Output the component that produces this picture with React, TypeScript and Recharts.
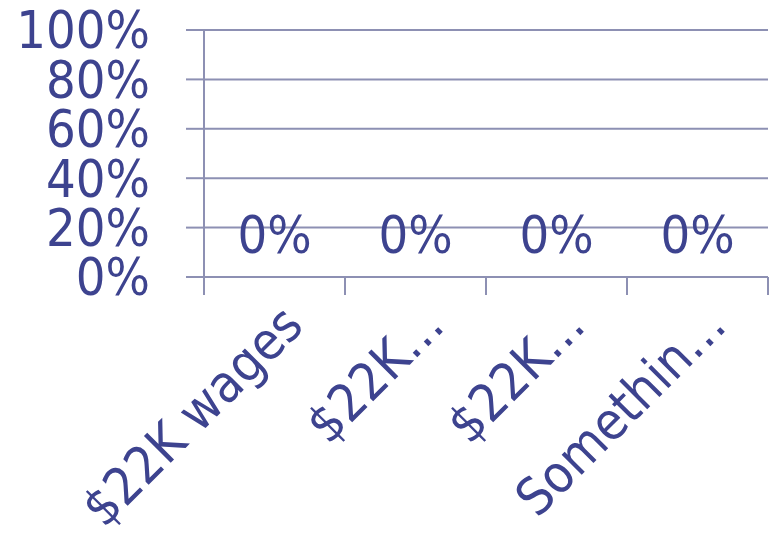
import React from "react";
import { ComposedChart, Bar, Scatter, XAxis, YAxis, CartesianGrid } from "recharts";

const categories = ["$22K wages", "$22K…", "$22K…", "Somethin…"];
const values = [0, 0, 0, 0];
const yTicks = [0, 20, 40, 60, 80, 100];
const boundaryTicks = [0, 1, 2, 3, 4];

const data = categories.map((name, i) => ({ name, idx: i + 0.5, value: values[i] }));

const FONT = "'DejaVu Sans Condensed', 'Open Sans', 'DejaVu Sans', sans-serif";
const TEXT = "#3d438f";
const LINE = "#8d90b3";
const FS = 52;

const XTick = (props: any) => {
  const { x, y, payload } = props;
  const ax = x + 31;
  const ay = y + 50;
  return (
    <text
      x={ax}
      y={ay}
      textAnchor="end"
      fontFamily={FONT}
      fontSize={FS}
      fill={TEXT}
      transform={`rotate(-45, ${ax}, ${ay})`}
    >
      {payload.value}
    </text>
  );
};

const ValueLabel = (props: any) => {
  const { cx, cy, payload } = props;
  return (
    <text
      x={cx}
      y={cy - 24}
      textAnchor="middle"
      fontFamily={FONT}
      fontSize={FS}
      fill={TEXT}
    >
      {`${payload.value}%`}
    </text>
  );
};

export default function App() {
  return (
    <div style={{ position: "absolute", left: 0, top: 0, width: 769, height: 549, background: "#fff" }}>
      <ComposedChart
        width={769}
        height={549}
        data={data}
        margin={{ top: 30, right: 1, left: 0, bottom: 0 }}
        barCategoryGap="20%"
      >
        <CartesianGrid horizontal vertical={false} stroke={LINE} strokeWidth={2} xAxisId="a_num" />
        <XAxis
          xAxisId="a_num"
          type="number"
          dataKey="idx"
          domain={[0, 4]}
          allowDataOverflow
          ticks={boundaryTicks}
          tickFormatter={() => ""}
          tick={{ fontSize: 1, fill: "none" }}
          tickSize={18}
          height={1}
          axisLine={{ stroke: LINE, strokeWidth: 2 }}
          tickLine={{ stroke: LINE, strokeWidth: 2 }}
          interval={0}
        />
        <XAxis
          xAxisId="b_cat"
          dataKey="name"
          type="category"
          height={271}
          axisLine={false}
          tickLine={false}
          tickSize={0}
          tickMargin={0}
          interval={0}
          tick={<XTick />}
        />
        <YAxis
          type="number"
          domain={[0, 100]}
          ticks={yTicks}
          width={204}
          tickSize={18}
          tickMargin={36}
          interval={0}
          tickFormatter={(v: number) => `${v}%`}
          axisLine={{ stroke: LINE, strokeWidth: 2 }}
          tickLine={{ stroke: LINE, strokeWidth: 2 }}
          tick={{ fill: TEXT, fontSize: FS, fontFamily: FONT }}
        />
        <Bar xAxisId="b_cat" dataKey="value" fill="#4f81bd" isAnimationActive={false} />
        <Scatter xAxisId="a_num" dataKey="value" shape={<ValueLabel />} isAnimationActive={false} />
      </ComposedChart>
    </div>
  );
}
